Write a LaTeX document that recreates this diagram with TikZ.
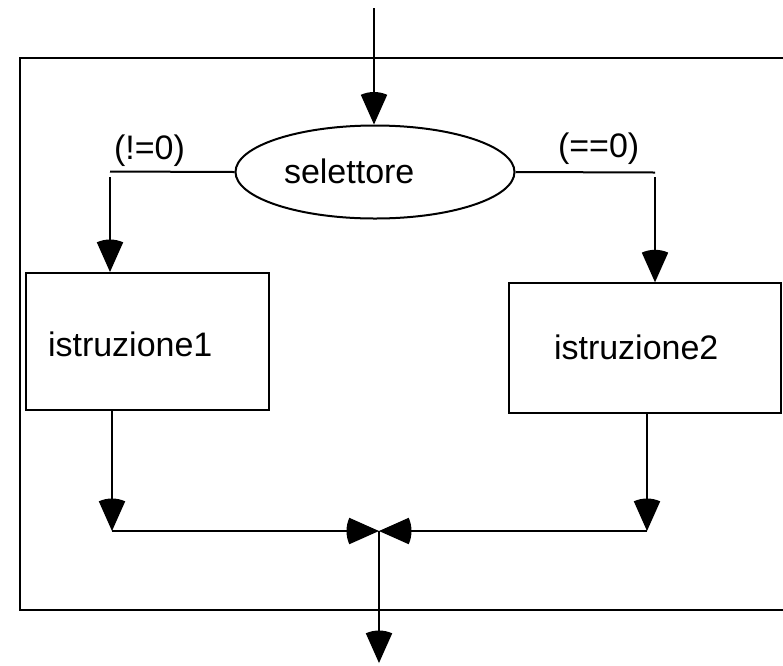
\documentclass[tikz,border=0pt]{standalone}
\usepackage{fontspec}
\setmainfont{Liberation Sans}
\usetikzlibrary{shapes.geometric}
\pgfdeclarearrow{
  name = Cone,
  setup code = {
    \pgfarrowssettipend{0pt}
    \pgfarrowssetlineend{-12pt}
    \pgfarrowssetbackend{-32pt}
    \pgfarrowshullpoint{0pt}{0pt}
    \pgfarrowsupperhullpoint{-32pt}{13.5pt}
  },
  drawing code = {
    \pgfpathmoveto{\pgfpointorigin}
    \pgfpathlineto{\pgfpointpolar{156}{32.5pt}}
    \pgfpatharc{156}{204}{32.5pt}
    \pgfpathclose
    \pgfusepathqfill
  }
}
\begin{document}
\begin{tikzpicture}[x=1pt,y=-1pt,line width=2pt,
  box/.style={draw,rectangle,inner sep=0pt},
  txt/.style={font=\fontsize{34}{40}\selectfont,inner sep=0pt,anchor=base west},
  flow/.style={-Cone}]
\useasboundingbox (0,0) rectangle (783,665);
% frame
\draw (790,58) -- (20,58) -- (20,610) -- (790,610);
% selector
\node[draw,ellipse,minimum width=279pt,minimum height=93pt,inner sep=0pt] (sel) at (375,172) {};
\node[txt] (seltxt) at (283,183) {selettore};
% boxes
\node[box,minimum width=243pt,minimum height=137pt] (box1) at (147,341.5) {};
\node[txt] (box1txt) at (47,356) {istruzione1};
\node[box,minimum width=272pt,minimum height=130pt] (box2) at (645,348.3) {};
\node[txt] (box2txt) at (553,359) {istruzione2};
% labels
\node[txt] (lneq) at (113,159) {(!=0)};
\node[txt] (leq) at (557,157.5) {(==0)};
% coordinates
\coordinate (top) at (374,8);
\coordinate (cL) at (110,171.5);
\coordinate (cLv) at (110,177);
\coordinate (cR) at (655,172.5);
\coordinate (cRv) at (655,177);
\coordinate (b1) at (112,531);
\coordinate (b2) at (647,531);
\coordinate (m) at (379,531);
\coordinate (bot) at (379,663);
% connectors
\draw[flow] (top) -- (top |- sel.north);
\draw (sel.west) -- (cL);
\draw[flow] (cLv) -- (cLv |- box1.north);
\draw (sel.east) -- (cR);
\draw[flow] (cRv) -- (cRv |- box2.north);
\draw[flow] (b1 |- box1.south) -- (b1);
\draw[flow] (b2 |- box2.south) -- (b2);
\draw[flow] (b1) -- (m);
\draw[flow] (b2) -- (m);
\draw[flow] (m) -- (bot);
\end{tikzpicture}
\end{document}
